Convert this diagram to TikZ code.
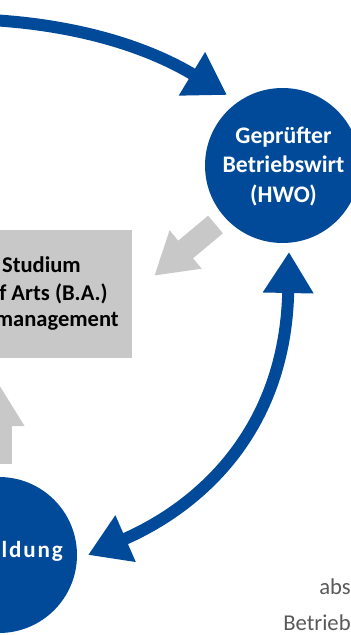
\documentclass[tikz,border=0pt]{standalone}
\usepackage{fontspec}
\setmainfont{Carlito}
\usetikzlibrary{arrows.meta}
\definecolor{hwoblue}{RGB}{0,74,153}
\definecolor{boxgray}{RGB}{200,200,200}
\definecolor{textgray}{RGB}{89,89,89}
\tikzset{
  bluetip/.tip={Triangle[length=30.75pt,width=36pt]},
  graytip/.tip={Triangle[length=30.75pt,width=35.25pt]},
  bigcircle/.style={circle, fill=hwoblue, minimum size=116.25pt, inner sep=0pt},
  circletext/.style={text=white, font=\bfseries\fontsize{17.8}{22.2}\selectfont, align=center, inner sep=0pt},
  boxtext/.style={text=black, font=\bfseries\fontsize{16.9}{20}\selectfont, inner sep=0pt},
  sidetext/.style={text=textgray, font=\fontsize{17}{20}\selectfont, inner sep=0pt},
  bluearrow/.style={draw=hwoblue, line width=9pt},
  grayarrow/.style={draw=boxgray, line width=17.25pt, -graytip},
}
\begin{document}
\begin{tikzpicture}[x=0.75pt,y=-0.75pt]
\useasboundingbox (0,0) rectangle (350,635);
% nodes
\node[bigcircle] (hwo) at (282.5,165.5) {};
\node[circletext] (hwotext) at (283.5,166.5) {Geprüfter\\Betriebswirt\\(HWO)};
\node[bigcircle, minimum size=117pt] (ausb) at (-1,555) {};
\node[circletext, anchor=base east, font=\bfseries\fontsize{17.3}{20}\selectfont\addfontfeature{LetterSpace=8}] (ausbtext) at (63,557) {ldung};
\node[fill=boxgray, anchor=north east, minimum width=150pt, minimum height=96pt, inner sep=0pt] (studium) at (132,230) {};
\node[boxtext, anchor=base east] (st1) at (81,272) {Studium};
\node[boxtext, anchor=base east] (st2) at (108,300) {f Arts (B.A.)};
\node[boxtext, anchor=base east] (st3) at (119,326) {management};
\node[sidetext, anchor=base west] (side1) at (319,594) {abs};
\node[sidetext, anchor=base west] (side2) at (283,630) {Betrieb};
% connector end points
\coordinate (topstart) at (-40,19);
\coordinate (toptip) at (227,95);
\coordinate (dbltop) at (289,252);
\coordinate (dblbottom) at (88,555);
\coordinate (g1s) at (215.5,224.5);
\coordinate (g1t) at (154.2,275.8);
\coordinate (g2s) at (-0.5,464);
\coordinate (g2t) at (-0.5,385);
% blue arrows
\draw[bluearrow, -bluetip] (topstart) .. controls (60,20) and (141,43) .. (toptip);
\draw[bluearrow, bluetip-bluetip] (dblbottom) .. controls (198,507) and (285.4,432) .. (dbltop);
% gray arrows
\draw[grayarrow] (g1s) -- (g1t);
\draw[grayarrow, line width=18pt] (g2s) -- (g2t);
\end{tikzpicture}
\end{document}
